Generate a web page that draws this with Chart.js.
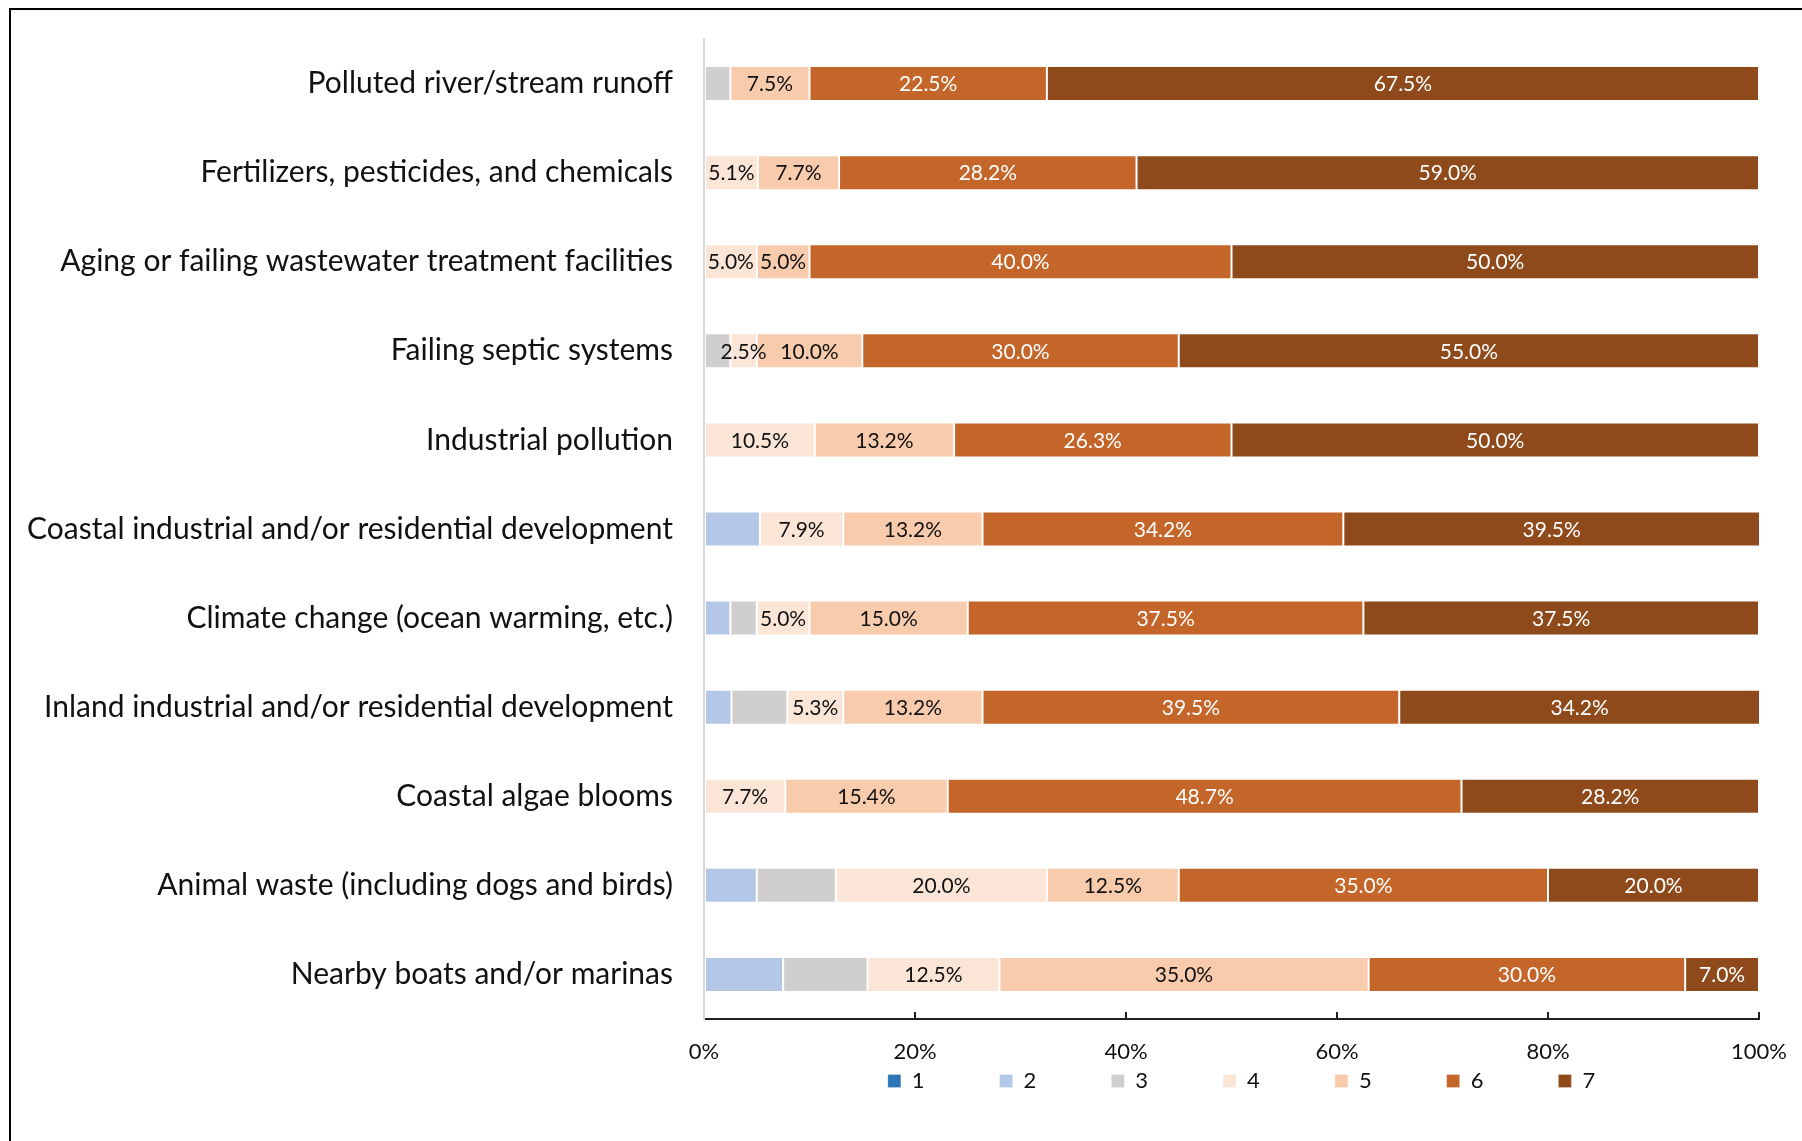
<!DOCTYPE html>
<html>
<head>
<meta charset="utf-8">
<script src="https://cdn.jsdelivr.net/npm/chart.js@4.4.1/dist/chart.umd.min.js"></script>
<style>
  html, body { margin: 0; padding: 0; background: #fff; overflow: hidden; }
  #wrap { position: relative; width: 1802px; height: 1141px; }
  #frame { position: absolute; left: 9px; top: 8px; width: 1900px; height: 1200px; border-left: 2px solid #000; border-top: 2px solid #000; }
  #grafic { position: absolute; left: 0; top: 0; }
</style>
</head>
<body>
<div id="wrap">
  <div id="frame"></div>
  <canvas id="grafic" width="1802" height="1141"></canvas>
</div>
<script>
const categories = [
  'Polluted river/stream runoff',
  'Fertilizers, pesticides, and chemicals',
  'Aging or failing wastewater treatment facilities',
  'Failing septic systems',
  'Industrial pollution',
  'Coastal industrial and/or residential development',
  'Climate change (ocean warming, etc.)',
  'Inland industrial and/or residential development',
  'Coastal algae blooms',
  'Animal waste (including dogs and birds)',
  'Nearby boats and/or marinas'
];

// percentage of answers per rating (1 = lowest, 7 = highest)
const rating1 = [0, 0, 0, 0, 0, 0, 0, 0, 0, 0, 0];
const rating2 = [0, 0, 0, 0, 0, 5.3, 2.5, 2.6, 0, 5.0, 7.5];
const rating3 = [2.5, 0, 0, 2.5, 0, 0, 2.5, 5.3, 0, 7.5, 8.0];
const rating4 = [0, 5.1, 5.0, 2.5, 10.5, 7.9, 5.0, 5.3, 7.7, 20.0, 12.5];
const rating5 = [7.5, 7.7, 5.0, 10.0, 13.2, 13.2, 15.0, 13.2, 15.4, 12.5, 35.0];
const rating6 = [22.5, 28.2, 40.0, 30.0, 26.3, 34.2, 37.5, 39.5, 48.7, 35.0, 30.0];
const rating7 = [67.5, 59.0, 50.0, 55.0, 50.0, 39.5, 37.5, 34.2, 28.2, 20.0, 7.0];

const ratingNames = ['1', '2', '3', '4', '5', '6', '7'];
const xTicks = [0, 20, 40, 60, 80, 100];

const colors = ['#2E75B6', '#B4C7E7', '#D0CECE', '#FBE5D6', '#F8CBAD', '#C4662A', '#8F4A1C'];
const labelColors = [null, null, null, '#111', '#111', '#fff', '#fff'];

const series = [rating1, rating2, rating3, rating4, rating5, rating6, rating7];

Chart.defaults.font.family = 'Lato, "Liberation Sans", sans-serif';
Chart.defaults.color = '#111';

// values written inside each segment (ratings 4 to 7 only)
const etiquetes = {
  id: 'etiquetes',
  afterDatasetsDraw(chart) {
    const ctx = chart.ctx;
    ctx.save();
    ctx.font = '21px Lato, "Liberation Sans", sans-serif';
    ctx.textAlign = 'center';
    ctx.textBaseline = 'middle';
    chart.data.datasets.forEach((ds, i) => {
      if (!labelColors[i]) return;
      const meta = chart.getDatasetMeta(i);
      meta.data.forEach((bar, j) => {
        const v = ds.data[j];
        if (!v) return;
        const p = bar.getProps(['x', 'y', 'base'], true);
        ctx.fillStyle = labelColors[i];
        ctx.fillText(v.toFixed(1) + '%', (p.x + p.base) / 2, p.y + 1);
      });
    });
    ctx.restore();
  }
};

// move the legend row up under the axis labels (the legend clips to its own box,
// so the box is stretched to hold the items)
const legendaPos = {
  id: 'legendaPos',
  afterLayout(chart) {
    const l = chart.legend;
    if (!l) return;
    l.top -= 74;
    l.bottom = l.top + 115;
    l.height = 115;
    l.left += 10; l.right += 10;
  }
};

new Chart(document.getElementById('grafic'), {
  type: 'bar',
  data: {
    labels: categories,
    datasets: series.map((d, i) => ({
      label: ratingNames[i],
      data: d,
      backgroundColor: colors[i],
      borderColor: 'rgba(255,255,255,0.25)',
      borderWidth: 1,
      borderSkipped: false,
      barPercentage: 0.393,
      categoryPercentage: 1
    }))
  },
  options: {
    indexAxis: 'y',
    responsive: false,
    animation: false,
    layout: { padding: { left: 0, top: 39, right: 43, bottom: 32 } },
    scales: {
      x: {
        stacked: true,
        min: 0, max: 100,
        afterBuildTicks: (s) => { s.ticks = xTicks.map(v => ({ value: v })); },
        afterFit: (s) => { s.height = 50; s.paddingLeft = 0; s.paddingRight = 0; },
        grid: { drawOnChartArea: false, tickLength: -7, color: '#1f1f1f', lineWidth: 2 },
        border: { color: '#1f1f1f', width: 2 },
        ticks: { padding: 27, font: { size: 22 }, color: '#111', callback: (v) => v + '%' }
      },
      y: {
        stacked: true,
        afterFit: (s) => { s.width = 704; s.paddingTop = 0; s.paddingBottom = 0; },
        grid: { display: false, drawTicks: false },
        border: { color: '#D9D9D9', width: 2 },
        ticks: { padding: 31, font: { size: 30 }, color: '#111' }
      }
    },
    plugins: {
      legend: {
        position: 'bottom',
        fullSize: false,
        maxHeight: 40,
        labels: { boxWidth: 13, boxHeight: 13, padding: 75, font: { size: 22 }, color: '#111' }
      },
      tooltip: { enabled: false }
    }
  },
  plugins: [etiquetes, legendaPos]
});
</script>
</body>
</html>
